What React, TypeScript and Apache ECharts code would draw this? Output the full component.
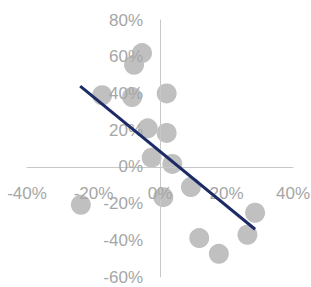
import React, { useEffect, useRef } from "react";
import * as echarts from "echarts";

const xValues = [-5.4, -7.8, -17.4, -8.4, 2, -3.7, 2, -2.5, 3.7, 9.3, 1, -23.8, 28.6, 11.8, 26.3, 17.7];
const yValues = [62, 55.6, 39, 38, 40, 21, 18.5, 5, 1.6, -11, -16.5, -20.7, -25, -38.8, -37, -47.4];
const trendX = [-24, 28.6];
const trendY = [44, -34];
const xTicks = { min: -40, max: 40, interval: 20 };
const yTicks = { min: -60, max: 80, interval: 20 };

export default function App() {
  const ref = useRef<HTMLDivElement>(null);
  useEffect(() => {
    if (!ref.current) return;
    const chart = echarts.init(ref.current, undefined, { renderer: "svg" });
    const labelStyle = {
      color: "#a6a6a6",
      fontSize: 17,
      fontFamily: "Liberation Sans",
      formatter: "{value}%",
    };
    chart.setOption({
      animation: false,
      grid: { left: 27, right: 18, top: 20, bottom: 10, containLabel: false, outerBoundsMode: "none" },
      xAxis: {
        type: "value",
        min: xTicks.min,
        max: xTicks.max,
        interval: xTicks.interval,
        z: 3,
        axisLine: { onZero: true, lineStyle: { color: "#c8c8c8", width: 1 } },
        axisTick: { show: false },
        splitLine: { show: false },
        axisLabel: { ...labelStyle, margin: -92 },
      },
      yAxis: {
        type: "value",
        min: yTicks.min,
        max: yTicks.max,
        interval: yTicks.interval,
        z: 3,
        axisLine: { show: true, onZero: true, lineStyle: { color: "#c8c8c8", width: 1 } },
        axisTick: { show: false },
        splitLine: { show: false },
        axisLabel: { ...labelStyle, margin: -116, padding: [4, 0, 0, 0] },
      },
      series: [
        {
          type: "scatter",
          symbol: "circle",
          symbolSize: 20,
          itemStyle: { color: "#c0c0c0", opacity: 1 },
          data: xValues.map((x, i) => [x, yValues[i]]),
          z: 2,
        },
        {
          type: "line",
          symbol: "none",
          lineStyle: { color: "#1c2b66", width: 3 },
          data: trendX.map((x, i) => [x, trendY[i]]),
          z: 4,
        },
      ],
    });
    return () => chart.dispose();
  }, []);
  return <div ref={ref} style={{ width: 311, height: 287, position: "absolute", left: 0, top: 0 }} />;
}
